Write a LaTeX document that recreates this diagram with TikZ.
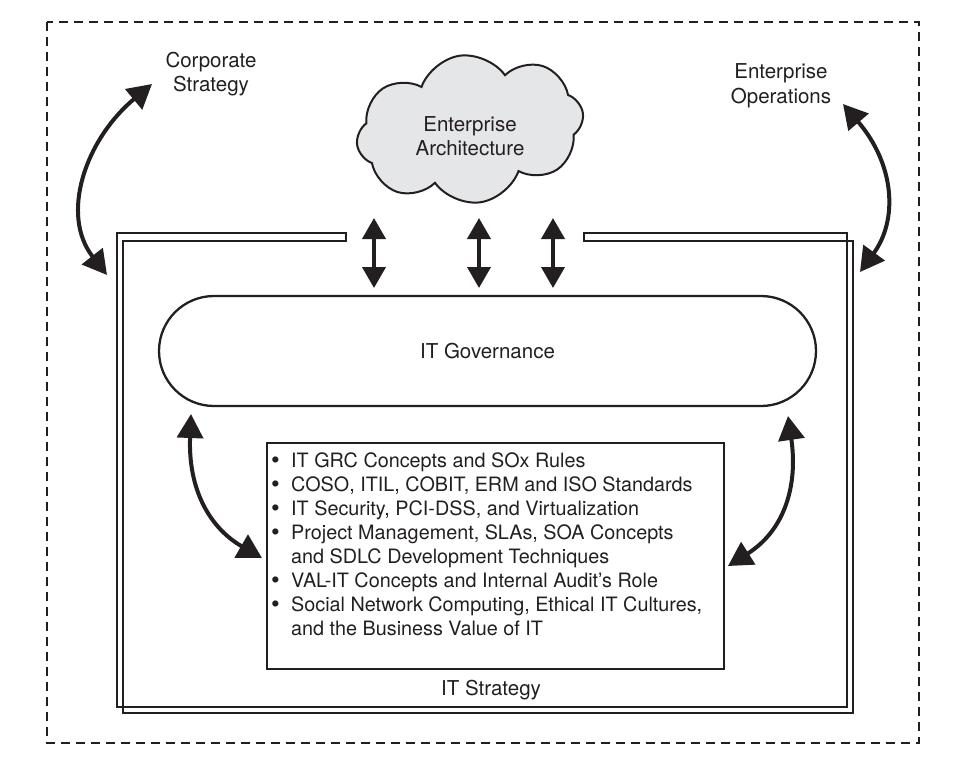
\documentclass[tikz,border=0pt]{standalone}
\usepackage{fontspec}
\setmainfont{TeX Gyre Heros}
\usetikzlibrary{arrows.meta,shapes.symbols}
\definecolor{ink}{RGB}{35,31,32}
\definecolor{cloudgray}{RGB}{229,230,232}
\newcommand{\bigbul}{\raisebox{-1.6pt}{\scalebox{1.25}{\textbullet}}}
\begin{document}
\begin{tikzpicture}[x=1pt,y=-1pt,
  lab/.style={font=\fontsize{20.5}{24.5}\selectfont, text=ink, align=center, inner sep=0pt},
  listtext/.style={font=\fontsize{19.8}{24}\selectfont, text=ink, inner sep=0pt, anchor=north west},
  dashframe/.style={draw=ink, line width=2.5pt, dash pattern=on 9pt off 6pt},
  frameline/.style={draw=ink, line width=2.5pt},
  govbox/.style={draw=ink, line width=2.3pt, rounded corners=55pt, minimum width=657pt, minimum height=110pt, inner sep=0pt, font=\fontsize{20.5}{24.5}\selectfont, text=ink},
  listbox/.style={draw=ink, line width=2.3pt, minimum width=457pt, minimum height=226pt, inner sep=0pt},
  eacloud/.style={cloud, cloud puffs=8, cloud puff arc=125, aspect=1.5, draw=ink, line width=2pt, fill=cloudgray, minimum width=228pt, minimum height=148pt, inner sep=0pt},
  vlink/.style={draw=ink, line width=4pt, {Triangle[length=21pt,width=23pt]}-{Triangle[length=21pt,width=23pt]}},
  clink/.style={draw=ink, line width=4pt, {Triangle[length=24pt,width=26pt]}-{Triangle[length=24pt,width=26pt]}},
]
\useasboundingbox (0,0) rectangle (956,756);

% outer dashed boundary
\draw[dashframe] (47,22) rectangle (919,743);

% double frame (IT Strategy) with opening at the top
\draw[frameline] (346,233) -- (117,233) -- (117,707) -- (847,707) -- (847,233) -- (584,233)
  -- (584,241) -- (853,241) -- (853,713) -- (123,713) -- (123,241) -- (346,241) -- cycle;

% cloud
\node[eacloud, rotate=8] (ea) at (470,129) {};
\node[lab] (eatext) at (470,136) {Enterprise\\Architecture};

% labels
\node[lab] (corp) at (211,74) {Corporate\\Strategy};
\node[lab] (ops) at (781,86) {Enterprise\\Operations};
\node[lab] (its) at (491,690) {IT Strategy};

% IT Governance
\node[govbox] (gov) at (487.5,351) {IT Governance};

% list box
\node[listbox] (list) at (495.5,556) {};
\node[listtext] (items) at (271,450.2) {\begin{tabular}{@{}p{20pt}@{}l@{}}
\bigbul & IT GRC Concepts and SOx Rules\\
\bigbul & COSO, ITIL, COBIT, ERM and ISO Standards\\
\bigbul & IT Security, PCI-DSS, and Virtualization\\
\bigbul & Project Management, SLAs, SOA Concepts\\
 & and SDLC Development Techniques\\
\bigbul & VAL-IT Concepts and Internal Audit’s Role\\
\bigbul & Social Network Computing, Ethical IT Cultures,\\
 & and the Business Value of IT
\end{tabular}};

% vertical double arrows
\coordinate (v1a) at (374,218); \coordinate (v1b) at (374,288);
\coordinate (v2a) at (479,218); \coordinate (v2b) at (479,288);
\coordinate (v3a) at (553,218); \coordinate (v3b) at (553,288);
\draw[vlink] (v1a) -- (v1b);
\draw[vlink] (v2a) -- (v2b);
\draw[vlink] (v3a) -- (v3b);

% curved double arrows
\coordinate (c1a) at (152,84);  \coordinate (c1b) at (107,275);
\coordinate (c2a) at (843,104); \coordinate (c2b) at (860,272);
\coordinate (c3a) at (191,414); \coordinate (c3b) at (262,558);
\coordinate (c4a) at (788,416); \coordinate (c4b) at (728,566);
\draw[clink] (c1a) .. controls (85,140) and (60,215) .. (c1b);
\draw[clink] (c2a) .. controls (895,165) and (898,220) .. (c2b);
\draw[clink] (c3a) .. controls (188,490) and (210,528) .. (c3b);
\draw[clink] (c4a) .. controls (798,485) and (785,530) .. (c4b);
\end{tikzpicture}
\end{document}
